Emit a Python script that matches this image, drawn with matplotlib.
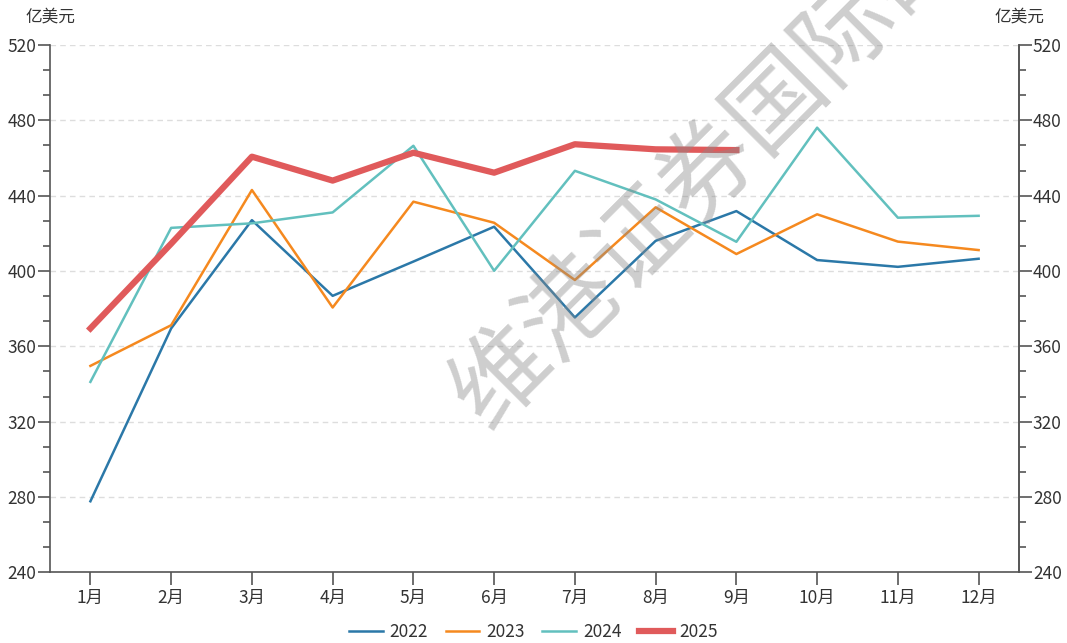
import matplotlib
matplotlib.use("Agg")
import matplotlib.pyplot as plt
from matplotlib.ticker import MultipleLocator

plt.rcParams["font.family"] = ["Noto Sans CJK SC", "DejaVu Sans"]

months = ["1月", "2月", "3月", "4月", "5月", "6月", "7月", "8月", "9月", "10月", "11月", "12月"]
y2022 = [277.7, 369.5, 427.0, 386.8, 405.0, 423.5, 375.3, 416.0, 431.8, 405.8, 402.2, 406.5]
y2023 = [349.6, 371.2, 443.0, 380.6, 436.8, 425.6, 395.2, 433.8, 409.0, 430.1, 415.6, 411.1]
y2024 = [341.1, 422.9, 425.3, 431.1, 466.5, 400.1, 453.2, 438.0, 415.5, 476.1, 428.3, 429.3]
y2025 = [369.5, 414.5, 460.7, 448.0, 462.8, 452.2, 467.3, 464.6, 464.2]
unit = "亿美元"
watermark = "维港证券国际研究"

fig = plt.figure(figsize=(10.67, 6.43), dpi=100)
ax = fig.add_axes([0.0469, 0.110, 0.9081, 0.820])

x = list(range(len(months)))
ax.plot(x, y2022, color="#2B78A8", lw=1.8, label="2022", zorder=3)
ax.plot(x, y2023, color="#F5891F", lw=1.8, label="2023", zorder=3)
ax.plot(x, y2024, color="#62C0BE", lw=1.8, label="2024", zorder=3)
ax.plot(x[:len(y2025)], y2025, color="#E05A5B", lw=4.5, label="2025", zorder=4)

ax.set_xlim(-0.5, len(months) - 0.5)
ax.set_ylim(240, 520)
ax.set_xticks(x)
ax.set_xticklabels(months)
ax.yaxis.set_major_locator(MultipleLocator(40))
ax.yaxis.set_minor_locator(MultipleLocator(40 / 3))
ax.grid(axis="y", color="#dddddd", linestyle=(0, (4, 3)), lw=1)
ax.set_axisbelow(True)

axis_color = "#555555"
ax.spines["top"].set_visible(False)
for s in ["left", "right", "bottom"]:
    ax.spines[s].set_color(axis_color)
    ax.spines[s].set_linewidth(1.2)

ax.tick_params(axis="y", which="major", length=9, width=1.2, color=axis_color,
               labelsize=12.5, labelcolor="#333333", pad=1)
ax.tick_params(axis="y", which="minor", length=5, width=1.2, color=axis_color)
ax.tick_params(axis="x", length=9, width=1.2, color=axis_color,
               labelsize=12.5, labelcolor="#333333", pad=3)

ax2 = ax.twinx()
ax2.set_ylim(ax.get_ylim())
ax2.yaxis.set_major_locator(MultipleLocator(40))
ax2.yaxis.set_minor_locator(MultipleLocator(40 / 3))
for s in ["top", "left", "bottom"]:
    ax2.spines[s].set_visible(False)
ax2.spines["right"].set_color(axis_color)
ax2.spines["right"].set_linewidth(1.2)
ax2.tick_params(axis="y", which="major", length=9, width=1.2, color=axis_color,
                labelsize=12.5, labelcolor="#333333", pad=1)
ax2.tick_params(axis="y", which="minor", length=5, width=1.2, color=axis_color)

fig.text(50 / 1067, 1 - 17 / 643, unit, ha="center", va="center", fontsize=12, color="#333333")
fig.text(1019 / 1067, 1 - 17 / 643, unit, ha="center", va="center", fontsize=12, color="#333333")

handles, labels = ax.get_legend_handles_labels()
fig.legend(handles, labels, loc="center", bbox_to_anchor=(0.5, 1 - 632 / 643), ncol=4,
           frameon=False, fontsize=12.5, handlelength=1.95, columnspacing=1.0,
           handletextpad=0.4, labelcolor="#333333")

fig.text(0.438, 0.36, watermark, rotation=45, rotation_mode="anchor", ha="left", va="center",
         fontsize=70, color="#8a8a8a", alpha=0.42, zorder=10)

fig.savefig("out.png", dpi=100)
